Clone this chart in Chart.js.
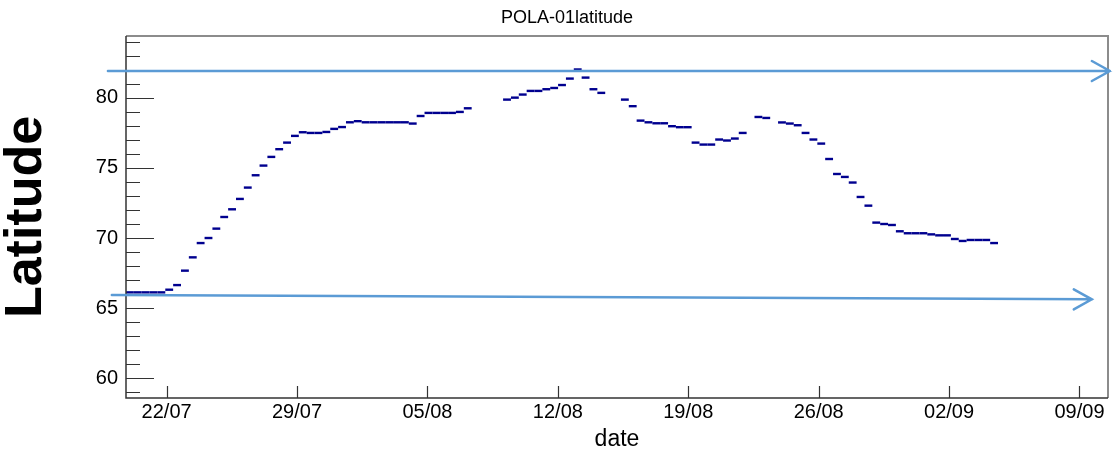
<!DOCTYPE html>
<html>
<head>
<meta charset="utf-8">
<script src="https://cdn.jsdelivr.net/npm/chart.js@4.4.1/dist/chart.umd.min.js"></script>
<style>
  html, body { margin: 0; padding: 0; background: #fff; }
  #wrap { width: 1114px; height: 454px; }
</style>
</head>
<body>
<div id="wrap"><canvas id="chart"></canvas></div>
<script>
// x in days, day 0 = 22/07
const dateTicks = [0, 7, 14, 21, 28, 35, 42, 49];
const dateLabels = ['22/07', '29/07', '05/08', '12/08', '19/08', '26/08', '02/09', '09/09'];
const latTicks = [60, 65, 70, 75, 80];
const dayRange = [-2.18, 50.53];
const latRange = [58.58, 84.42];

// one value per histogram bin (125 bins over the x range), null = empty bin
const latitude = [
  66.12, 66.12, 66.12, 66.12, 66.12, 66.31, 66.64, 67.67, 68.62, 69.64,
  70.00, 70.67, 71.50, 72.05, 72.79, 73.60, 74.48, 75.17, 75.79, 76.34,
  76.81, 77.29, 77.55, 77.50, 77.50, 77.57, 77.79, 77.92, 78.26, 78.34,
  78.26, 78.26, 78.26, 78.26, 78.26, 78.26, 78.17, 78.71, 78.93, 78.93,
  78.93, 78.93, 79.00, 79.26, null, null, null, null, 79.88, 80.02,
  80.24, 80.50, 80.50, 80.62, 80.71, 80.92, 81.38, 82.03, 81.45, 80.62,
  80.36, null, null, 79.88, 79.41, 78.38, 78.26, 78.19, 78.19, 77.98,
  77.91, 77.91, 76.81, 76.67, 76.67, 77.03, 76.96, 77.10, 77.50, null,
  78.64, 78.57, null, 78.25, 78.17, 78.05, 77.50, 77.03, 76.74, 75.64,
  74.57, 74.36, 73.96, 72.93, 72.31, 71.10, 71.00, 70.93, 70.48, 70.34,
  70.34, 70.34, 70.26, 70.19, 70.19, 69.93, 69.79, 69.86, 69.86, 69.86,
  69.64, null, null, null, null, null, null, null, null, null,
  null, null, null, null, null
];

// the two light blue guide arrows drawn over the plot: [day, latitude]
const arrowStart = [[-3.15, 81.92], [-2.94, 65.94]];
const arrowEnd = [[50.63, 81.92], [49.66, 65.62]];

const titleText = 'POLA-01latitude';

const binWidth = (dayRange[1] - dayRange[0]) / latitude.length;
const points = latitude.map((v, i) => ({ x: dayRange[0] + (i + 0.5) * binWidth, y: v }));

const axesPlugin = {
  id: 'rootAxes',
  afterDatasetsDraw(chart) {
    const { ctx, chartArea: a, scales: { x, y } } = chart;
    ctx.save();
    // frame
    ctx.strokeStyle = '#8c8c8c';
    ctx.lineWidth = 2;
    ctx.beginPath();
    ctx.moveTo(a.left, a.top);
    ctx.lineTo(a.right, a.top);
    ctx.lineTo(a.right, a.bottom);
    ctx.stroke();
    ctx.strokeStyle = '#333';
    ctx.lineWidth = 1.5;
    ctx.beginPath();
    ctx.moveTo(a.left, a.top);
    ctx.lineTo(a.left, a.bottom);
    ctx.lineTo(a.right, a.bottom);
    ctx.stroke();
    // y ticks, pointing inwards
    ctx.lineWidth = 1.2;
    ctx.beginPath();
    for (let v = Math.ceil(y.min); v <= y.max; v++) {
      const py = Math.round(y.getPixelForValue(v)) + 0.5;
      const len = latTicks.includes(v) ? 28 : 14;
      ctx.moveTo(a.left, py);
      ctx.lineTo(a.left + len, py);
    }
    // x ticks
    dateTicks.forEach(d => {
      const px = Math.round(x.getPixelForValue(d)) + 0.5;
      ctx.moveTo(px, a.bottom);
      ctx.lineTo(px, a.bottom - 12);
    });
    ctx.stroke();
    // title, a bit left of the plot centre like the ROOT pad title
    ctx.fillStyle = '#000';
    ctx.font = '18px "Liberation Sans"';
    ctx.textAlign = 'center';
    ctx.textBaseline = 'middle';
    ctx.fillText(titleText, (a.left + a.right) / 2 - 50, 18);
    ctx.restore();
  },
  afterDraw(chart) {
    const { ctx, scales: { x, y } } = chart;
    ctx.save();
    ctx.strokeStyle = '#5b9bd5';
    ctx.lineWidth = 2.5;
    ctx.lineCap = 'round';
    arrowStart.forEach((s, i) => {
      const x0 = x.getPixelForValue(s[0]), y0 = y.getPixelForValue(s[1]);
      const x1 = x.getPixelForValue(arrowEnd[i][0]), y1 = y.getPixelForValue(arrowEnd[i][1]);
      ctx.beginPath();
      ctx.moveTo(x0, y0);
      ctx.lineTo(x1, y1);
      ctx.moveTo(x1 - 18, y1 - 10);
      ctx.lineTo(x1, y1);
      ctx.lineTo(x1 - 18, y1 + 10);
      ctx.stroke();
    });
    ctx.restore();
  }
};

new Chart(document.getElementById('chart'), {
  type: 'scatter',
  data: {
    datasets: [{
      data: points,
      showLine: false,
      pointStyle: 'line',
      borderColor: '#00008f',
      backgroundColor: '#00008f',
      borderWidth: 2.4,
      pointRadius: (c) => {
        const s = c.chart.scales.x;
        return Math.abs(s.getPixelForValue(binWidth) - s.getPixelForValue(0)) / 2;
      }
    }]
  },
  options: {
    responsive: true,
    maintainAspectRatio: false,
    animation: false,
    events: [],
    layout: { padding: { top: 36, right: 6, bottom: 0, left: 0 } },
    plugins: {
      legend: { display: false },
      tooltip: { enabled: false },
      title: { display: false }
    },
    scales: {
      x: {
        type: 'linear',
        min: dayRange[0],
        max: dayRange[1],
        grid: { display: false, drawTicks: false },
        border: { display: false },
        afterBuildTicks: (s) => { s.ticks = dateTicks.map(v => ({ value: v })); },
        afterFit: (s) => { s.height = 56; s.paddingLeft = 0; s.paddingRight = 0; },
        ticks: {
          padding: 2,
          maxRotation: 0,
          autoSkip: false,
          color: '#000',
          font: { family: 'Liberation Sans', size: 20 },
          callback: (v) => dateLabels[dateTicks.indexOf(v)]
        },
        title: {
          display: true,
          text: 'date',
          color: '#000',
          font: { family: 'Liberation Sans', size: 23 },
          padding: { top: 0, bottom: 1 }
        }
      },
      y: {
        min: latRange[0],
        max: latRange[1],
        grid: { display: false, drawTicks: false },
        border: { display: false },
        afterBuildTicks: (s) => { s.ticks = latTicks.map(v => ({ value: v })); },
        afterFit: (s) => { s.width = 126; s.paddingTop = 0; s.paddingBottom = 0; },
        ticks: {
          padding: 8,
          color: '#000',
          font: { family: 'Liberation Sans', size: 20 }
        },
        title: {
          display: true,
          text: 'Latitude',
          color: '#000',
          font: { family: 'Liberation Sans', size: 52, weight: 'bold', lineHeight: 1 },
          padding: { top: 1, bottom: 0 }
        }
      }
    }
  },
  plugins: [axesPlugin]
});
</script>
</body>
</html>
